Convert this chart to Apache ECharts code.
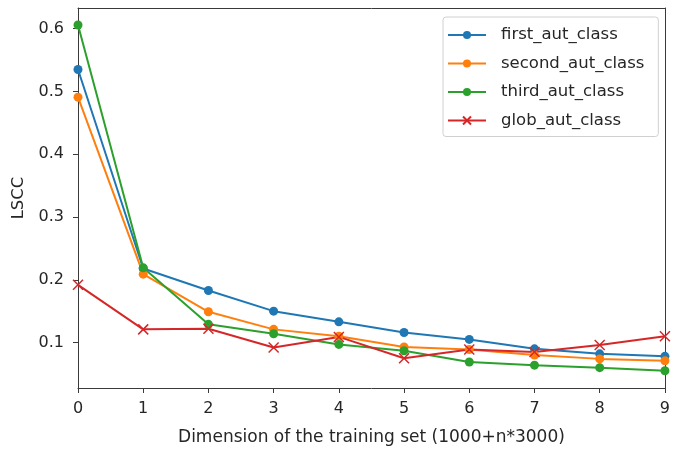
<!DOCTYPE html>
<html>
<head>
<meta charset="utf-8">
<script src="https://cdn.jsdelivr.net/npm/echarts@6/dist/echarts.min.js"></script>
<style>html,body{margin:0;padding:0;background:#fff}#c{width:673px;height:451px}</style>
</head>
<body>
<div id="c"></div>
<script>
const xValues = [0,1,2,3,4,5,6,7,8,9];
const firstAut  = [0.535,0.218,0.183,0.150,0.133,0.116,0.105,0.090,0.082,0.078];
const secondAut = [0.491,0.209,0.149,0.121,0.110,0.093,0.089,0.080,0.074,0.071];
const thirdAut  = [0.606,0.219,0.129,0.114,0.097,0.087,0.069,0.064,0.060,0.055];
const globAut   = [0.192,0.121,0.122,0.092,0.109,0.075,0.089,0.085,0.096,0.110];
const yTicks = [0.1,0.2,0.3,0.4,0.5,0.6];
const seriesNames = ['first_aut_class','second_aut_class','third_aut_class','glob_aut_class'];
const colors = ['#1f77b4','#ff7f0e','#2ca02c','#d62728'];

const FONT = 'DejaVu Sans';
const TXT = '#262626';
const AX = '#3a3a3a';
const xSym = 'path://M0,0 L10,10 M10,0 L0,10';
const chart = echarts.init(document.getElementById('c'));
const pair = arr => xValues.map((x,i)=>[x,arr[i]]);
const mk = (name, arr, color, isX) => ({
  name, type:'line', data: pair(arr),
  symbol: isX ? xSym : 'circle',
  symbolSize: isX ? 10 : 9,
  showAllSymbol:true,
  lineStyle:{color, width:2},
  itemStyle: isX ? {color:'none', borderColor:color, borderWidth:1.5} : {color, borderWidth:0},
  color,
  animation:false
});
const hiddenAxis = {
  axisLine:{show:true,onZero:false,lineStyle:{color:AX,width:1}},
  axisTick:{show:false}, axisLabel:{show:false}, splitLine:{show:false}
};
chart.setOption({
  animation:false,
  grid:{left:78,right:5,top:8,bottom:58},
  legend:{
    orient:'vertical', left:443, top:17,
    data: seriesNames,
    backgroundColor:'#fff', borderColor:'#d0d0d0', borderWidth:1, borderRadius:3,
    padding:[9,14,7,4],
    itemWidth:38, itemHeight:10, itemGap:10.5,
    textStyle:{fontFamily:FONT,fontSize:16.5,color:TXT,lineHeight:18,padding:[0,0,0,10]}
  },
  xAxis:[{
    type:'value', min:0, max:9, interval:1,
    name:'Dimension of the training set (1000+n*3000)', nameLocation:'middle', nameGap:41,
    nameTextStyle:{fontFamily:FONT,fontSize:17,color:TXT},
    axisLine:{show:true,onZero:false,lineStyle:{color:AX,width:1}},
    axisTick:{show:true,length:5,inside:false,lineStyle:{color:AX}},
    axisLabel:{fontFamily:FONT,fontSize:16,color:TXT,margin:13},
    splitLine:{show:false}
  },{
    type:'value', min:0, max:9, position:'top', ...hiddenAxis
  }],
  yAxis:[{
    type:'value', min:0.0276, max:0.633,
    name:'LSCC', nameLocation:'middle', nameGap:50, nameRotate:90,
    nameTextStyle:{fontFamily:FONT,fontSize:16.5,color:TXT},
    axisLine:{show:true,onZero:false,lineStyle:{color:AX,width:1}},
    axisTick:{show:true,length:5,customValues:yTicks,lineStyle:{color:AX}},
    axisLabel:{fontFamily:FONT,fontSize:16,color:TXT,margin:14,customValues:yTicks,
      formatter:v=>v.toFixed(1)},
    splitLine:{show:false}
  },{
    type:'value', min:0.0276, max:0.633, position:'right', ...hiddenAxis
  }],
  series:[
    mk(seriesNames[0], firstAut, colors[0], false),
    mk(seriesNames[1], secondAut, colors[1], false),
    mk(seriesNames[2], thirdAut, colors[2], false),
    mk(seriesNames[3], globAut, colors[3], true)
  ]
});
</script>
</body>
</html>
